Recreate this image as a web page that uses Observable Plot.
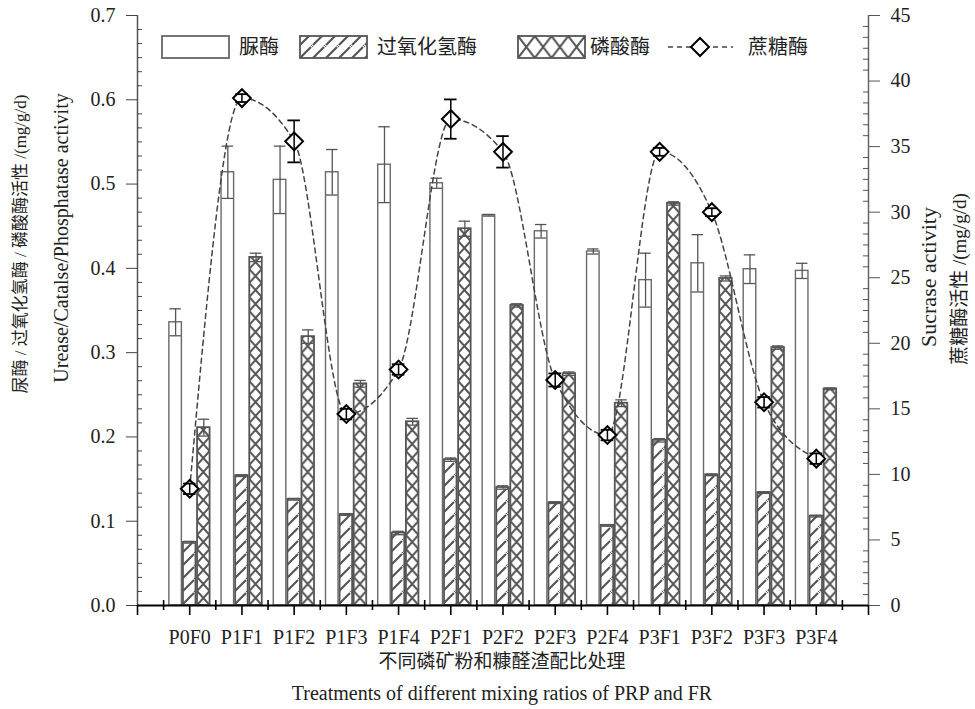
<!DOCTYPE html>
<html>
<head>
<meta charset="utf-8">
<script src="https://cdn.jsdelivr.net/npm/d3@7"></script>
<script src="https://cdn.jsdelivr.net/npm/@observablehq/plot@0.6"></script>
<style>
  body { margin: 0; background: #fff; }
  #chart svg { display: block; }
</style>
</head>
<body>
<div id="chart"></div>
<script>
// ---------------- data ----------------
const treatments = ["P0F0","P1F1","P1F2","P1F3","P1F4","P2F1","P2F2","P2F3","P2F4","P3F1","P3F2","P3F3","P3F4"];
const urease       = [0.336,0.514,0.505,0.514,0.523,0.501,0.463,0.444,0.420,0.386,0.406,0.399,0.397];
const ureaseErr    = [0.016,0.031,0.040,0.027,0.045,0.006,0.001,0.008,0.003,0.032,0.034,0.017,0.009];
const catalase     = [0.075,0.154,0.126,0.108,0.086,0.173,0.140,0.122,0.095,0.196,0.155,0.134,0.106];
const catalaseErr  = [0.001,0.001,0.001,0.001,0.002,0.002,0.002,0.001,0.001,0.002,0.001,0.001,0.001];
const phosphatase  = [0.211,0.413,0.319,0.263,0.218,0.447,0.356,0.275,0.240,0.477,0.388,0.306,0.257];
const phosphataseErr=[0.010,0.005,0.008,0.004,0.004,0.009,0.002,0.002,0.004,0.002,0.003,0.002,0.001];
const sucrase      = [8.9,38.7,35.4,14.6,18.0,37.1,34.6,17.2,13.0,34.6,30.0,15.5,11.2];
const sucraseErr   = [0.4,0.3,1.6,0.4,0.4,1.5,1.2,0.5,0.4,0.3,0.3,0.4,0.4];
const leftTicks  = [0,0.1,0.2,0.3,0.4,0.5,0.6,0.7];
const rightTicks = [0,5,10,15,20,25,30,35,40,45];
const legendLabels = ["脲酶","过氧化氢酶","磷酸酶","蔗糖酶"];
const leftTitleCn = "尿酶 / 过氧化氢酶 / 磷酸酶活性 /(mg/g/d)";
const leftTitleEn = "Urease/Catalse/Phosphatase activity";
const rightTitleEn = "Sucrase activity";
const rightTitleCn = "蔗糖酶活性 /(mg/g/d)";
const xTitleCn = "不同磷矿粉和糠醛渣配比处理";
const xTitleEn = "Treatments of different mixing ratios of PRP and FR";

// ---------------- setup ----------------
const yMax = 0.7, sMax = 45, k = yMax / sMax;
const rows = treatments.map((t, j) => ({
  t, i: j + 1,
  u: urease[j], ue: ureaseErr[j],
  c: catalase[j], ce: catalaseErr[j],
  p: phosphatase[j], pe: phosphataseErr[j],
  s: sucrase[j], se: sucraseErr[j]
}));
const bw = 0.24, off = 0.27, cap = 0.11;
const FONT = "'Liberation Serif','Times New Roman','Noto Sans CJK SC',serif";
const CJK = "'Noto Sans CJK SC','Liberation Serif',sans-serif";

const series = [
  {key: "u", e: "ue", o: -off, fill: "white", stroke: "#6a6a6a", sw: 1.4},
  {key: "c", e: "ce", o: 0, fill: "url(#hatch)", stroke: "#555", sw: 1.8},
  {key: "p", e: "pe", o: off, fill: "url(#cross)", stroke: "#555", sw: 1.8}
];

const marks = [];
for (const s of series) {
  marks.push(Plot.rect(rows, {
    x1: d => d.i + s.o - bw / 2, x2: d => d.i + s.o + bw / 2,
    y1: 0, y2: s.key, fill: s.fill, stroke: s.stroke, strokeWidth: s.sw
  }));
}
for (const s of series) {
  marks.push(Plot.ruleX(rows, {x: d => d.i + s.o, y1: d => d[s.key] - d[s.e], y2: d => d[s.key] + d[s.e], stroke: "#555", strokeWidth: 1.3}));
  marks.push(Plot.ruleY(rows, {y: d => d[s.key] + d[s.e], x1: d => d.i + s.o - cap, x2: d => d.i + s.o + cap, stroke: "#555", strokeWidth: 1.3}));
  marks.push(Plot.ruleY(rows, {y: d => d[s.key] - d[s.e], x1: d => d.i + s.o - cap, x2: d => d.i + s.o + cap, stroke: "#555", strokeWidth: 1.3}));
}
// sucrase line
marks.push(Plot.line(rows, {x: "i", y: d => d.s * k, curve: "monotone-x", stroke: "#444", strokeWidth: 1.5, strokeDasharray: "5,4"}));
marks.push(Plot.dot(rows, {x: "i", y: d => d.s * k, symbol: "diamond2", r: 8, fill: "white", stroke: "black", strokeWidth: 2}));
marks.push(Plot.ruleX(rows, {x: "i", y1: d => (d.s - d.se) * k, y2: d => (d.s + d.se) * k, stroke: "black", strokeWidth: 1.5}));
marks.push(Plot.ruleY(rows, {y: d => (d.s + d.se) * k, x1: d => d.i - 0.12, x2: d => d.i + 0.12, stroke: "black", strokeWidth: 1.8}));
marks.push(Plot.ruleY(rows, {y: d => (d.s - d.se) * k, x1: d => d.i - 0.12, x2: d => d.i + 0.12, stroke: "black", strokeWidth: 1.8}));

// axis lines
marks.push(Plot.ruleX([0], {stroke: "#555", strokeWidth: 1.5}));
marks.push(Plot.ruleX([treatments.length + 1], {stroke: "#666", strokeWidth: 1.5}));
marks.push(Plot.ruleY([0], {stroke: "black", strokeWidth: 2}));

// axes
const minorLeft = d3.range(0, 42).map(j => j * 0.1 / 6).filter((v, j) => j % 6 !== 0);
const minorRight = d3.range(0, 54).map(j => j * 5 / 6).filter((v, j) => j % 6 !== 0).map(v => v * k);
marks.push(Plot.axisY({anchor: "left", ticks: leftTicks, tickSize: 11, tickPadding: 11, tickFormat: d3.format(".1f"), label: null, stroke: "#444"}));
marks.push(Plot.axisY({anchor: "left", ticks: minorLeft, tickSize: -5, tickFormat: () => "", label: null, stroke: "#444"}));
marks.push(Plot.axisY({anchor: "right", ticks: rightTicks.map(v => v * k), tickSize: 11, tickPadding: 11, tickFormat: v => String(Math.round(v / k)), label: null, stroke: "#555"}));
marks.push(Plot.axisY({anchor: "right", ticks: minorRight, tickSize: -6, tickFormat: () => "", label: null, stroke: "#555"}));
marks.push(Plot.axisX({ticks: d3.range(1, treatments.length + 1), tickSize: 10, tickPadding: 14, tickFormat: i => treatments[i - 1], label: null, stroke: "black", strokeWidth: 1.6}));
marks.push(Plot.axisX({ticks: [0, treatments.length + 1], tickSize: 10, tickFormat: () => "", label: null, stroke: "black", strokeWidth: 1.6}));
marks.push(Plot.axisX({ticks: d3.range(0.5, treatments.length + 1, 1), tickSize: 5, tickFormat: () => "", label: null, stroke: "black", strokeWidth: 1.6}));
marks.push(Plot.axisX({ticks: d3.range(0.5, treatments.length + 1, 1), tickSize: -5, tickFormat: () => "", label: null, stroke: "black", strokeWidth: 1.6}));

const plot = Plot.plot({
  width: 975, height: 709,
  marginLeft: 137, marginRight: 107, marginTop: 15, marginBottom: 104,
  x: {type: "linear", domain: [0, treatments.length + 1]},
  y: {domain: [0, yMax]},
  style: {fontFamily: FONT, fontSize: "20px", color: "#222", background: "white"},
  marks
});
document.getElementById("chart").append(plot);

// ---------------- patterns ----------------
const svg = d3.select(plot);
const xs = plot.scale("x"), ys = plot.scale("y");
const step = xs.apply(2) - xs.apply(1);
const px0 = xs.apply(1 + off - bw / 2);
const bwpx = xs.apply(1 + bw) - xs.apply(1);
const y0 = ys.apply(0);
const defs = svg.insert("defs", ":first-child");
const hatch = defs.append("pattern").attr("id", "hatch").attr("patternUnits", "userSpaceOnUse")
  .attr("width", 13).attr("height", 13).attr("y", y0);
hatch.append("rect").attr("width", 13).attr("height", 13).attr("fill", "white");
hatch.append("path").attr("d", "M-2,2L2,-2M1,12L12,1M11,15L15,11").attr("stroke", "#555").attr("stroke-width", 2.2);

const cross = defs.append("pattern").attr("id", "cross").attr("patternUnits", "userSpaceOnUse")
  .attr("x", px0).attr("y", y0).attr("width", step).attr("height", 14);
cross.append("rect").attr("width", step).attr("height", 14).attr("fill", "white");
cross.append("path").attr("d", `M0,0L${bwpx},14M${bwpx},0L0,14`).attr("stroke", "#555").attr("stroke-width", 2);

// legend cross pattern
const lc = defs.append("pattern").attr("id", "crossL").attr("patternUnits", "userSpaceOnUse")
  .attr("x", 518).attr("y", 36).attr("width", 16.75).attr("height", 22);
lc.append("rect").attr("width", 16.75).attr("height", 22).attr("fill", "white");
lc.append("path").attr("d", "M0,0L16.75,22M16.75,0L0,22").attr("stroke", "#555").attr("stroke-width", 2);

// ---------------- legend ----------------
const lg = svg.append("g").attr("text-anchor", "start");
const lgItems = [
  {x: 162, fill: "white", stroke: "#666", label: legendLabels[0], tx: 239},
  {x: 300, fill: "url(#hatch)", stroke: "#555", label: legendLabels[1], tx: 377},
  {x: 518, fill: "url(#crossL)", stroke: "#555", label: legendLabels[2], tx: 590}
];
for (const it of lgItems) {
  lg.append("rect").attr("x", it.x).attr("y", 36).attr("width", 67).attr("height", 22)
    .attr("fill", it.fill).attr("stroke", it.stroke).attr("stroke-width", 1.8);
  lg.append("text").attr("x", it.tx).attr("y", 54).attr("text-anchor", "start").attr("font-family", CJK).attr("font-size", 20)
    .attr("fill", "#222").text(it.label);
}
lg.append("line").attr("x1", 668).attr("x2", 733).attr("y1", 47).attr("y2", 47)
  .attr("stroke", "#444").attr("stroke-width", 1.5).attr("stroke-dasharray", "5,4");
lg.append("path").attr("d", "M700,38L709,47L700,56L691,47Z").attr("fill", "white").attr("stroke", "black").attr("stroke-width", 2);
lg.append("text").attr("x", 748).attr("y", 54).attr("text-anchor", "start").attr("font-family", CJK).attr("font-size", 20)
  .attr("fill", "#222").text(legendLabels[3]);

// ---------------- titles ----------------
function vtext(x, y, str, family, size) {
  svg.append("text").attr("transform", `translate(${x},${y}) rotate(-90)`)
    .attr("text-anchor", "middle").attr("dominant-baseline", "middle")
    .attr("font-family", family).attr("font-size", size).attr("fill", "#222").text(str);
}
vtext(22, 244, leftTitleCn, FONT, 17);
vtext(63, 238, leftTitleEn, FONT, 20);
vtext(931, 277, rightTitleEn, FONT, 22);
vtext(962, 279, rightTitleCn, FONT, 19);
svg.append("text").attr("x", 502).attr("y", 663).attr("text-anchor", "middle").attr("dominant-baseline", "middle")
  .attr("font-family", CJK).attr("font-size", 19).attr("fill", "#222").text(xTitleCn);
svg.append("text").attr("x", 502).attr("y", 695).attr("text-anchor", "middle").attr("dominant-baseline", "middle")
  .attr("font-family", FONT).attr("font-size", 20).attr("fill", "#222").text(xTitleEn);
</script>
</body>
</html>
